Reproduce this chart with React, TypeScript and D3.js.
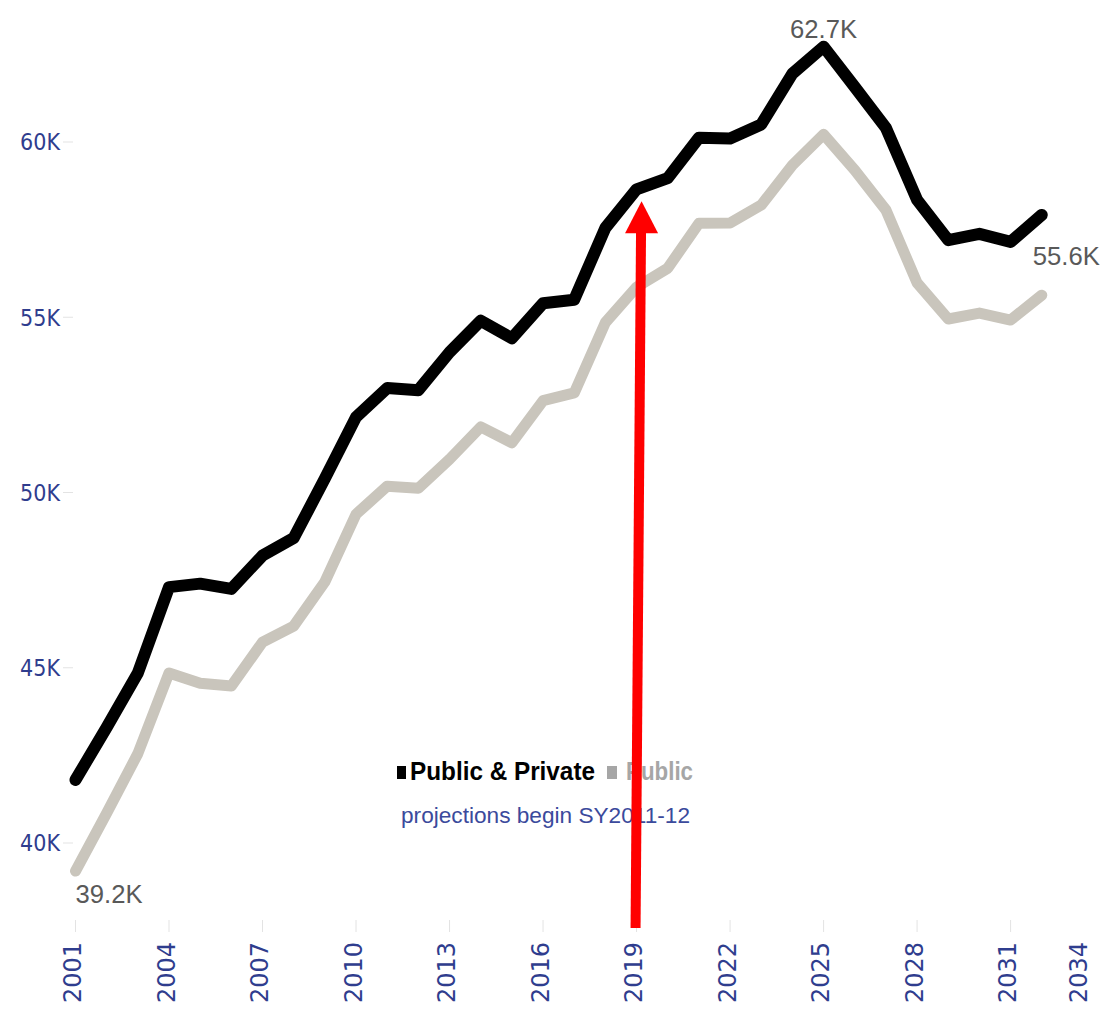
import React from "react";
import * as d3 from "d3";

const years = [
  2001, 2002, 2003, 2004, 2005, 2006, 2007, 2008, 2009, 2010, 2011, 2012, 2013, 2014, 2015, 2016,
  2017, 2018, 2019, 2020, 2021, 2022, 2023, 2024, 2025, 2026, 2027, 2028, 2029, 2030, 2031, 2032,
];
// thousands
const publicPrivate = [
  41.8, 43.3, 44.85, 47.3, 47.4, 47.25, 48.2, 48.7, 50.4, 52.15, 52.98, 52.92, 54.0, 54.9, 54.4, 55.4,
  55.5, 57.55, 58.65, 58.97, 60.12, 60.1, 60.5, 61.95, 62.72, 61.57, 60.4, 58.35, 57.2, 57.38, 57.15, 57.92,
];
const publicOnly = [
  39.2, 40.85, 42.55, 44.85, 44.56, 44.48, 45.73, 46.19, 47.45, 49.38, 50.18, 50.12, 50.95, 51.87, 51.42, 52.62,
  52.84, 54.85, 55.86, 56.4, 57.68, 57.69, 58.2, 59.34, 60.22, 59.2, 58.06, 55.98, 54.95, 55.12, 54.92, 55.63,
];
const yTicks = [40, 45, 50, 55, 60];
const xTicks = [2001, 2004, 2007, 2010, 2013, 2016, 2019, 2022, 2025, 2028, 2031, 2034];
const legendItems = ["Public & Private", "Public"];
const subtitle = "projections begin SY2011-12";
const arrowYear = 2019;

const W = 1102;
const H = 1010;
const NAVY = "#2f3d8e";

export default function App() {
  const x = d3.scaleLinear().domain([2001, 2034]).range([75.5, 75.5 + 33 * 31.17]);
  const y = d3.scaleLinear().domain([40, 60]).range([843, 142]);

  const line = d3
    .line<number>()
    .x((_, i) => x(years[i]))
    .y((d) => y(d))
    .curve(d3.curveLinear);

  const fmt = (v: number) => `${v.toFixed(1)}K`;
  const peakIdx = d3.maxIndex(publicPrivate);
  const lastIdx = years.length - 1;

  const ai = years.indexOf(arrowYear);
  const ax = x(arrowYear);
  const tipY = y(publicPrivate[ai]) + 12;

  return (
    <svg
      width={W}
      height={H}
      style={{ position: "absolute", left: 0, top: 0, background: "#fff", display: "block" }}
    >
      <rect x={0} y={0} width={W} height={H} fill="#fff" />
      {/* y axis */}
      {yTicks.map((t) => (
        <g key={t}>
          <line x1={63} x2={73} y1={y(t)} y2={y(t)} stroke="#e3e3e3" strokeWidth={1} />
          <text
            x={60}
            y={y(t)}
            dy="0.36em"
            textAnchor="end"
            fill={NAVY}
            style={{ font: "23px 'DejaVu Sans Condensed', 'DejaVu Sans', sans-serif" }}
          >
            {`${t}K`}
          </text>
        </g>
      ))}
      {/* x axis */}
      {xTicks.map((t) => {
        const px = x(t);
        const lx = Math.min(px, 1081);
        return (
          <g key={t}>
            {px < W && <line x1={px} x2={px} y1={920} y2={932} stroke="#e3e3e3" strokeWidth={1} />}
            <text
              transform={`translate(${lx + 5.5},942) rotate(-90)`}
              textAnchor="end"
              fill={NAVY}
              style={{ font: "24px 'DejaVu Sans', sans-serif" }}
            >
              {t}
            </text>
          </g>
        );
      })}
      {/* lines */}
      <path
        d={line(publicOnly) || ""}
        fill="none"
        stroke="#c9c5bc"
        strokeWidth={11}
        strokeLinejoin="round"
        strokeLinecap="round"
      />
      <path
        d={line(publicPrivate) || ""}
        fill="none"
        stroke="#000"
        strokeWidth={12}
        strokeLinejoin="round"
        strokeLinecap="round"
      />
      {/* data labels */}
      <text
        x={x(years[peakIdx])}
        y={y(publicPrivate[peakIdx]) - 9}
        textAnchor="middle"
        fill="#595959"
        style={{ font: "26px 'Liberation Sans Narrow', 'Liberation Sans', sans-serif" }}
        textLength={67}
        lengthAdjust="spacingAndGlyphs"
      >
        {fmt(publicPrivate[peakIdx])}
      </text>
      <text
        x={x(years[0])}
        y={y(publicOnly[0]) + 32}
        textAnchor="start"
        fill="#595959"
        style={{ font: "26px 'Liberation Sans Narrow', 'Liberation Sans', sans-serif" }}
        textLength={67}
        lengthAdjust="spacingAndGlyphs"
      >
        {fmt(publicOnly[0])}
      </text>
      <text
        x={x(years[lastIdx]) - 9}
        y={y(publicOnly[lastIdx]) - 30}
        textAnchor="start"
        fill="#595959"
        style={{ font: "26px 'Liberation Sans Narrow', 'Liberation Sans', sans-serif" }}
        textLength={67}
        lengthAdjust="spacingAndGlyphs"
      >
        {fmt(publicOnly[lastIdx])}
      </text>
      {/* legend */}
      <rect x={397} y={766} width={9} height={13} fill="#000" />
      <text
        x={410}
        y={780}
        fill="#000"
        style={{ font: "bold 26px 'Liberation Sans Narrow', 'Liberation Sans', sans-serif" }}
        textLength={185}
        lengthAdjust="spacingAndGlyphs"
      >
        {legendItems[0]}
      </text>
      <rect x={607} y={766} width={10} height={13} fill="#a6a6a6" />
      <text
        x={626}
        y={780}
        fill="#a6a6a6"
        style={{ font: "bold 26px 'Liberation Sans Narrow', 'Liberation Sans', sans-serif" }}
        textLength={67}
        lengthAdjust="spacingAndGlyphs"
      >
        {legendItems[1]}
      </text>
      <text
        x={401}
        y={823}
        fill="#3b4a9c"
        style={{ font: "22px 'Liberation Sans Narrow', 'Liberation Sans', sans-serif" }}
        textLength={289}
        lengthAdjust="spacingAndGlyphs"
      >
        {subtitle}
      </text>
      {/* red arrow annotation */}
      <line x1={ax - 1} y1={928} x2={ax + 4.5} y2={tipY + 28} stroke="#ff0000" strokeWidth={10} />
      <path
        d={`M${ax + 5},${tipY} L${ax + 21.5},${tipY + 32} L${ax - 11.5},${tipY + 32} Z`}
        fill="#ff0000"
      />
    </svg>
  );
}
